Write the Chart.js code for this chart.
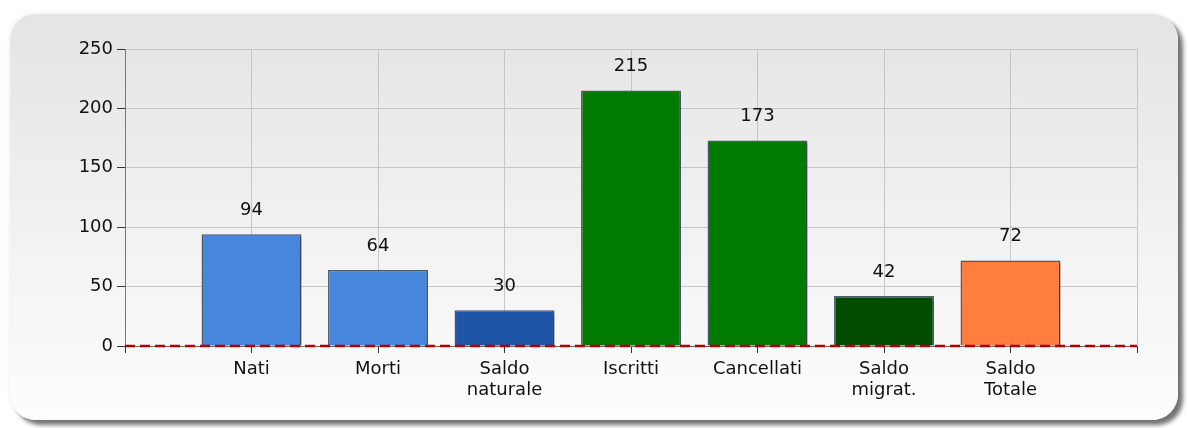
<!DOCTYPE html>
<html>
<head>
<meta charset="utf-8">
<script src="https://cdn.jsdelivr.net/npm/chart.js@4/dist/chart.umd.min.js"></script>
<style>
    html, body { margin: 0; padding: 0; width: 1188px; height: 428px; overflow: hidden; background: #fff; }
    #panel {
        position: absolute; left: 10px; top: 14px; width: 1168px; height: 406px;
        border-radius: 26px;
        background: linear-gradient(#e4e4e4, #fdfdfd);
        box-shadow: 5px 5px 4px rgba(0, 0, 0, 0.55), -1px -1px 4px rgba(0, 0, 0, 0.06);
    }
    #chart { position: absolute; left: 0; top: 0; }
</style>
</head>
<body>
<div id="panel"></div>
<canvas id="chart" width="1188" height="428"></canvas>
<script>
// Bilancio demografico - data
const categories = [['Nati'], ['Morti'], ['Saldo', 'naturale'], ['Iscritti'], ['Cancellati'], ['Saldo', 'migrat.'], ['Saldo', 'Totale']];
const values = [94, 64, 30, 215, 173, 42, 72];
const barColors = ['#4686dd', '#4686dd', '#1f55a6', '#007a00', '#007a00', '#004d00', '#ff7d3e'];
const yTicks = [0, 50, 100, 150, 200, 250];

const FONT = { family: '"DejaVu Sans", Verdana, sans-serif', size: 18 };

// shadow under bars + value labels + dashed zero line
const barExtras = {
    id: 'barExtras',
    beforeDatasetsDraw(chart) {
        const ctx = chart.ctx;
        ctx.save();
        ctx.shadowColor = 'rgba(0,0,0,0.35)';
        ctx.shadowOffsetX = 2;
        ctx.shadowOffsetY = 2;
        ctx.shadowBlur = 3;
    },
    afterDatasetsDraw(chart) {
        const ctx = chart.ctx;
        ctx.restore();

        // zero line
        const y0 = chart.scales.y.getPixelForValue(0);
        ctx.save();
        ctx.strokeStyle = '#b00000';
        ctx.lineWidth = 2.5;
        ctx.setLineDash([10, 5]);
        ctx.beginPath();
        ctx.moveTo(chart.chartArea.left, y0);
        ctx.lineTo(chart.chartArea.right, y0);
        ctx.stroke();
        ctx.restore();

        // value labels
        ctx.save();
        ctx.font = FONT.size + 'px ' + FONT.family;
        ctx.fillStyle = '#111';
        ctx.textAlign = 'center';
        ctx.textBaseline = 'middle';
        chart.getDatasetMeta(0).data.forEach((bar, i) => {
            ctx.fillText(String(values[i]), bar.x, bar.y - 24);
        });
        ctx.restore();
    }
};

new Chart(document.getElementById('chart'), {
    type: 'bar',
    data: {
        datasets: [{
            data: values.map((v, i) => ({ x: i + 1, y: v })),
            backgroundColor: barColors,
            borderColor: '#4e5a6e',
            borderWidth: 1.5,
            categoryPercentage: 0.79,
            barPercentage: 1
        }]
    },
    options: {
        responsive: false,
        animation: false,
        layout: { padding: { left: 0, top: 49, right: 51, bottom: 10 } },
        plugins: { legend: { display: false }, tooltip: { enabled: false } },
        scales: {
            x: {
                type: 'linear',
                offset: false,
                min: 0, max: categories.length + 1,
                afterFit: s => { s.height = 72; },
                afterBuildTicks: s => { s.ticks = []; for (let i = 0; i <= categories.length + 1; i++) s.ticks.push({ value: i }); },
                ticks: {
                    autoSkip: false,
                    maxRotation: 0,
                    padding: 6,
                    color: '#111',
                    font: { ...FONT, lineHeight: 1.15 },
                    callback: v => categories[v - 1] || ''
                },
                grid: { offset: false, color: '#c6c6c6', tickColor: '#333', tickLength: 7 },
                border: { color: '#666' }
            },
            y: {
                min: 0, max: 250,
                afterFit: s => { s.width = 125; },
                afterBuildTicks: s => { s.ticks = yTicks.map(v => ({ value: v })); },
                ticks: { padding: 4, color: '#111', font: FONT },
                grid: { color: '#c6c6c6', tickColor: '#333', tickLength: 8 },
                border: { color: '#777' }
            }
        }
    },
    plugins: [barExtras]
});
</script>
</body>
</html>
